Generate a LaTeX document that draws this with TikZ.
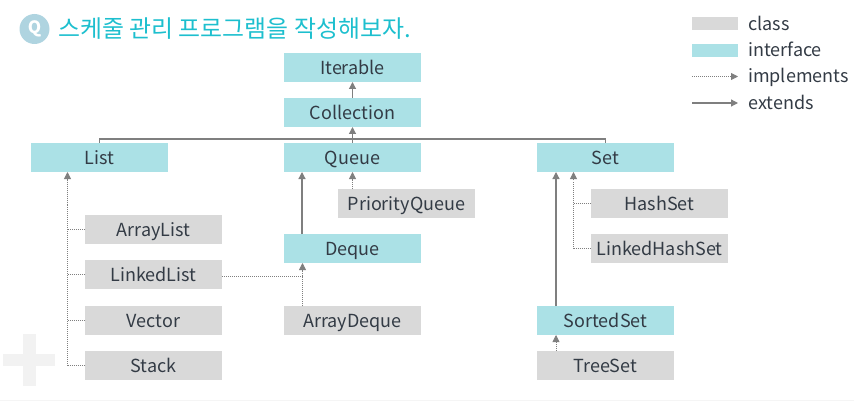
\documentclass[tikz,border=0pt]{standalone}
\usepackage{fontspec}
\setmainfont{Noto Sans CJK KR}
\newfontfamily\krfont{Noto Sans CJK KR}
\usetikzlibrary{arrows.meta}
\definecolor{ifc}{HTML}{ABE1E6}
\definecolor{cls}{HTML}{D9D9D9}
\definecolor{lnk}{HTML}{7F7F7F}
\definecolor{ttl}{HTML}{1DBFCE}
\definecolor{txt}{HTML}{333B45}
\definecolor{qcirc}{HTML}{AFD4E0}
\tikzset{
  x=1pt,y=-1pt,
  boxbase/.style={minimum width=137pt,minimum height=29pt,inner sep=0pt,outer sep=0pt,text=txt,text height=16pt,text depth=2pt,font=\fontsize{18}{20}\selectfont},
  ifcbox/.style={boxbase,fill=ifc},
  clsbox/.style={boxbase,fill=cls},
  ext/.style={draw=lnk,line width=1.2pt,-{Triangle[length=7pt,width=7pt]}},
  extline/.style={draw=lnk,line width=1.2pt},
  impl/.style={draw=lnk,line width=.8pt,dash pattern=on 1pt off 1pt,-{Triangle[length=7pt,width=7pt]}},
  implline/.style={draw=lnk,line width=.8pt,dash pattern=on 1pt off 1pt},
  legtext/.style={anchor=base west,inner sep=0pt,text=txt,font=\fontsize{18}{20}\selectfont},
  swatch/.style={minimum width=46pt,minimum height=13pt,inner sep=0pt,outer sep=0pt},
}
\begin{document}
\begin{tikzpicture}
\useasboundingbox (0,0) rectangle (854,401);
% decoration
\fill[black!5] (23,334) rectangle (36,386);
\fill[black!5] (3,354) rectangle (55,366);
\fill[black!4] (0,399.5) rectangle (854,401);
% title
\fill[qcirc] (34.5,29) circle (15);
\node (q) at (34.5,29) [inner sep=0pt,text=white,font=\bfseries\fontsize{17}{18}\selectfont] {Q};
\node (title) at (58,38) [anchor=base west,inner sep=0pt,text=ttl,font=\krfont\fontsize{23.9}{26}\selectfont] {스케줄 관리 프로그램을 작성해보자.};
% boxes
\node[ifcbox] (iterable) at (352.5,67.5) {Iterable};
\node[ifcbox] (collection) at (352.5,112.5) {Collection};
\node[ifcbox] (list) at (99.5,157.5) {List};
\node[ifcbox] (queue) at (352.5,157.5) {Queue};
\node[ifcbox] (set) at (605.5,157.5) {Set};
\node[clsbox] (pq) at (406.5,203.5) {PriorityQueue};
\node[ifcbox] (deque) at (352.5,248.5) {Deque};
\node[clsbox] (arraylist) at (153.5,229.5) {ArrayList};
\node[clsbox] (linkedlist) at (153.5,274.5) {LinkedList};
\node[clsbox] (vector) at (153.5,320.5) {Vector};
\node[clsbox] (stack) at (153.5,365.5) {Stack};
\node[clsbox] (arraydeque) at (352.5,320.5) {ArrayDeque};
\node[clsbox] (hashset) at (659.5,203.5) {HashSet};
\node[clsbox] (lhs) at (659.5,248.5) {LinkedHashSet};
\node[ifcbox] (sortedset) at (605.5,320.5) {SortedSet};
\node[clsbox] (treeset) at (605.5,365.5) {TreeSet};
% extends
\draw[ext] (collection.north) -- (iterable.south);
\draw[ext] (queue.north) -- (collection.south);
\coordinate (bus) at (352.5,139);
\draw[extline] (list.north) |- (bus) -| (set.north);
\coordinate (qx) at (302,0);
\draw[ext] (deque.north -| qx) -- (queue.south -| qx);
\coordinate (sx) at (556,0);
\draw[ext] (sortedset.north -| sx) -- (set.south -| sx);
% implements
\coordinate (lx) at (67.5,0);
\draw[impl] (lx |- stack.west) -- (lx |- list.south);
\foreach \n in {arraylist,linkedlist,vector,stack}
  \draw[implline] (\n.west) -- (lx |- \n.west);
\draw[impl] (pq.north -| queue.south) -- (queue.south);
\coordinate (dx) at (302.5,0);
\draw[impl] (arraydeque.north -| dx) -- (deque.south -| dx);
\coordinate (ll) at (222,276);
\draw[implline] (ll) -- (ll -| dx);
\coordinate (hx) at (573.5,0);
\draw[impl] (hx |- lhs.west) -- (hx |- set.south);
\draw[implline] (hashset.west) -- (hx |- hashset.west);
\draw[implline] (lhs.west) -- (hx |- lhs.west);
\draw[impl] (treeset.north -| sx) -- (sortedset.south -| sx);
% legend
\node[swatch,fill=cls] (lgc) at (715,23.5) {};
\node[swatch,fill=ifc] (lgi) at (715,50.5) {};
\coordinate (li1) at (692,76.5);
\coordinate (li2) at (738,76.5);
\coordinate (le1) at (692,103);
\coordinate (le2) at (738,103);
\draw[impl] (li1) -- (li2);
\draw[ext] (le1) -- (le2);
\node[legtext] (tc) at (748,30.5) {class};
\node[legtext] (ti) at (748,57) {interface};
\node[legtext] (tm) at (748,83) {implements};
\node[legtext] (te) at (748,110) {extends};
\end{tikzpicture}
\end{document}
